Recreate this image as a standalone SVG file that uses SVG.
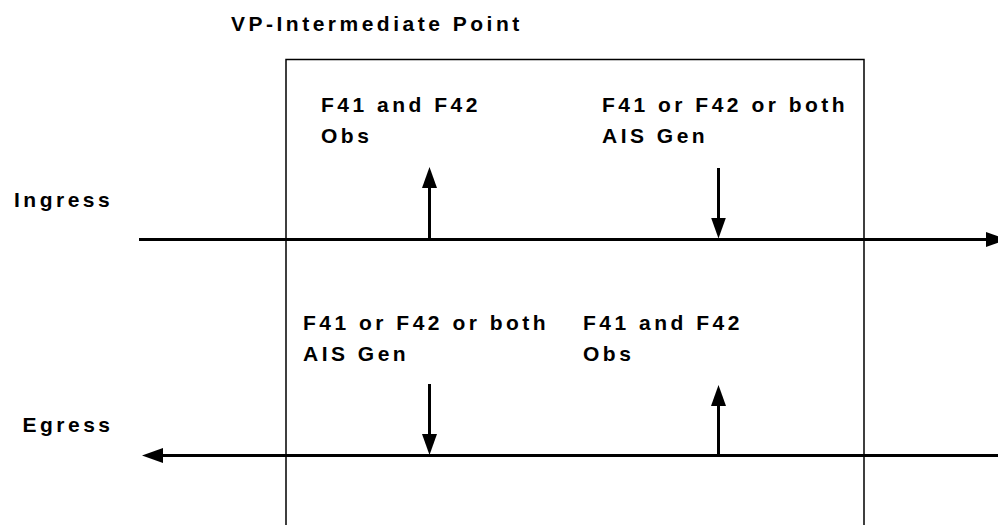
<svg xmlns="http://www.w3.org/2000/svg" width="998" height="525" viewBox="0 0 998 525">
<style>
  text { font-family: "Liberation Sans", Arial, sans-serif; font-weight: bold; font-size: 21px; letter-spacing: 3.5px; fill: #000; }
  .box { fill: none; stroke: #000; stroke-width: 1.5; }
  .flow { stroke: #000; stroke-width: 3; fill: none; marker-end: url(#ah); }
</style>
<defs>
  <marker id="ah" viewBox="0 0 21 15" refX="2" refY="7.5" markerWidth="21" markerHeight="15" markerUnits="userSpaceOnUse" orient="auto">
    <path d="M0,0 L21,7.5 L0,15 z" fill="#000"/>
  </marker>
</defs>
<rect width="998" height="525" fill="#fff"/>
<g id="vp-box">
  <path class="box" d="M286,530 V59.5 H864 V530"/>
  <text x="231" y="31">VP-Intermediate Point</text>
</g>
<g id="ingress-label"><text x="14" y="207">Ingress</text></g>
<g id="egress-label"><text x="22.5" y="432">Egress</text></g>
<g id="ingress-obs"><text x="321" y="112">F41 and F42</text><text x="321" y="143">Obs</text></g>
<g id="ingress-gen"><text x="602" y="112">F41 or F42 or both</text><text x="602" y="143">AIS Gen</text></g>
<g id="egress-gen"><text x="303" y="330">F41 or F42 or both</text><text x="303" y="361">AIS Gen</text></g>
<g id="egress-obs"><text x="583" y="330">F41 and F42</text><text x="583" y="361">Obs</text></g>
<g id="connectors">
  <line class="flow" x1="139" y1="239.5" x2="988" y2="239.5"/>
  <line class="flow" x1="998" y1="455.5" x2="161" y2="455.5"/>
  <line class="flow" x1="429.5" y1="239.5" x2="429.5" y2="186"/>
  <line class="flow" x1="718.5" y1="168" x2="718.5" y2="219.5"/>
  <line class="flow" x1="429.5" y1="384" x2="429.5" y2="436"/>
  <line class="flow" x1="718.5" y1="455.5" x2="718.5" y2="404"/>
</g>
</svg>
